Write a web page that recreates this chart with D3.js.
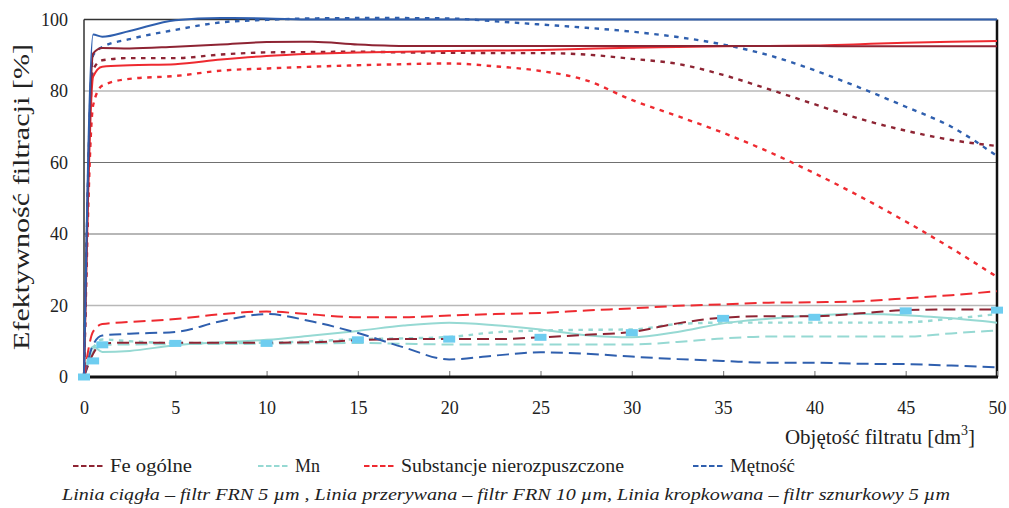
<!DOCTYPE html>
<html>
<head>
<meta charset="utf-8">
<script src="https://d3js.org/d3.v7.min.js"></script>
<style>
    body { margin: 0; background: #fff; }
    svg { display: block; }
    svg text { font-family: "Liberation Serif", "Times New Roman", serif; }
    .axis .domain { display: none; }
</style>
</head>
<body>
<script>
(function(){

//filtrate volume [dm3] - common sampling of all curves
var xVals = [0, 0.5, 1, 2.5, 5, 7.5, 10, 12.5, 15, 17.5, 20, 22.5, 25, 27.5, 30, 32.5, 35, 37.5, 40, 42.5, 45, 47.5, 50];

//Fe ogolne
var feSolid  = [0, 90.5, 92.0, 91.9, 92.4, 93.0, 93.7, 93.8, 93.0, 92.6, 92.6, 92.6, 92.6, 92.6, 92.6, 92.6, 92.6, 92.6, 92.6, 92.5, 92.5, 92.5, 92.5];
var feDashed = [0, 6.5, 9.4, 9.6, 9.6, 9.6, 9.6, 9.7, 10.3, 10.6, 10.6, 10.6, 11.1, 11.8, 12.6, 15.0, 16.6, 17.0, 17.0, 17.8, 18.7, 18.9, 18.9];
var feDotted = [0, 86.0, 88.6, 89.2, 89.2, 90.2, 90.8, 90.9, 91.0, 90.8, 90.7, 90.6, 90.6, 90.2, 89.0, 87.6, 84.5, 80.5, 76.3, 72.2, 68.9, 66.3, 64.6];

//Mn
var mnSolid  = [0, 8.5, 7.0, 7.3, 8.9, 9.7, 10.4, 11.6, 12.9, 14.4, 15.2, 14.5, 13.3, 11.7, 11.1, 12.6, 15.0, 16.3, 17.2, 17.6, 17.3, 16.4, 15.2];
var mnDashed = [0, 7.0, 9.0, 9.1, 9.2, 9.2, 9.3, 9.4, 9.5, 9.3, 9.1, 9.1, 9.1, 9.1, 9.1, 9.8, 10.8, 11.3, 11.3, 11.3, 11.3, 12.2, 13.0];
var mnDotted = [0, 8.0, 10.5, 10.0, 9.5, 9.5, 9.6, 10.0, 10.6, 10.8, 11.2, 12.5, 13.0, 13.2, 13.3, 14.8, 15.2, 15.2, 15.2, 15.2, 15.3, 16.3, 17.6];

//Substancje nierozpuszczone
var subSolid  = [0, 84.0, 86.8, 87.2, 87.5, 88.8, 89.8, 90.4, 90.8, 91.0, 91.2, 91.3, 91.5, 91.8, 92.1, 92.3, 92.5, 92.6, 92.7, 93.1, 93.5, 93.8, 94.0];
var subDashed = [0, 12.7, 14.8, 15.4, 16.2, 17.6, 18.3, 17.5, 16.7, 16.7, 17.2, 17.6, 17.9, 18.6, 19.2, 19.9, 20.3, 20.8, 20.9, 21.2, 22.0, 22.9, 24.0];
var subDotted = [0, 76.0, 81.5, 83.4, 84.2, 85.7, 86.3, 86.8, 87.2, 87.5, 87.7, 86.9, 85.6, 83.0, 77.5, 73.0, 68.3, 63.0, 57.0, 50.5, 43.5, 36.0, 28.0];

//Metnosc
var metSolid  = [0, 95.8, 95.2, 96.8, 99.8, 100.4, 100.3, 100, 100, 100, 100, 100, 100, 100, 100, 100, 100, 100, 100, 100, 100, 100, 100];
var metDashed = [0, 9.0, 11.6, 12.1, 12.6, 15.6, 17.6, 15.5, 12.3, 8.3, 4.9, 6.0, 6.9, 6.5, 5.7, 5.0, 4.5, 4.0, 4.0, 3.7, 3.6, 3.2, 2.7];
var metDotted = [0, 90.0, 92.3, 94.5, 97.1, 99.2, 99.9, 100.3, 100.4, 100.4, 100.3, 99.5, 98.6, 97.7, 96.6, 95.1, 93.0, 90.0, 85.8, 80.9, 75.6, 70.0, 61.8];

//light blue square markers
var markerX = [0, 0.5, 1, 5, 10, 15, 20, 25, 30, 35, 40, 45, 50];
var markerY = [0, 4.5, 9.0, 9.4, 9.4, 10.4, 10.6, 11.1, 12.4, 16.4, 16.7, 18.5, 18.7];

//ticks and labels
var xTicks = [0, 5, 10, 15, 20, 25, 30, 35, 40, 45, 50];
var yTicks = [0, 20, 40, 60, 80, 100];
var legendNames = ["Fe ogólne", "Mn", "Substancje nierozpuszczone", "Mętność"];
var captionText = "Linia ciągła – filtr FRN 5 µm , Linia przerywana – filtr FRN 10 µm, Linia kropkowana – filtr sznurkowy 5 µm";

var colors = ["#8e2433", "#96d9d3", "#ee2a30", "#2f5fae"];
var dashes = {solid: null, dashed: "12,6", dotted: "4.5,5.5"};

var width = 1009,
    height = 508,
    left = 84,
    right = 997,
    top = 19.5,
    bottom = 377;

var svg = d3.select("body")
    .append("svg")
    .attr("width", width)
    .attr("height", height);

var x = d3.scaleLinear().domain([0, 50]).range([left, right]);
var y = d3.scaleLinear().domain([0, 100]).range([bottom, top]);

//gridlines - alternate light/dark like the original scan
svg.selectAll(".grid")
    .data(yTicks.filter(function(d){ return d > 0 && d < 100; }))
    .enter()
    .append("line")
    .attr("x1", left)
    .attr("x2", right)
    .attr("y1", function(d){ return y(d); })
    .attr("y2", function(d){ return y(d); })
    .attr("stroke", function(d){ return (d == 20 || d == 80) ? "#b8b8b8" : "#707070"; })
    .attr("stroke-width", function(d){ return (d == 20 || d == 80) ? 1.6 : 1.1; });

//frame: top, right, left
svg.append("line").attr("x1", left).attr("x2", right).attr("y1", top).attr("y2", top)
    .attr("stroke", "#333").attr("stroke-width", 1.5);
svg.append("line").attr("x1", right).attr("x2", right).attr("y1", top).attr("y2", bottom)
    .attr("stroke", "#111").attr("stroke-width", 2.5);
svg.append("line").attr("x1", left).attr("x2", left).attr("y1", top).attr("y2", bottom)
    .attr("stroke", "#333").attr("stroke-width", 1.5);

//x axis
var xAxis = svg.append("g")
    .attr("class", "axis")
    .attr("transform", "translate(0," + bottom + ")")
    .call(d3.axisBottom(x).tickValues(xTicks).tickSizeInner(-6).tickSizeOuter(0).tickPadding(24));
xAxis.attr("font-family", null).attr("font-size", 18);
xAxis.selectAll("text").attr("fill", "#222");
xAxis.selectAll(".tick line").attr("stroke", "#888").attr("stroke-width", 1.2);
svg.append("line").attr("x1", left).attr("x2", right + 1).attr("y1", bottom).attr("y2", bottom)
    .attr("stroke", "#111").attr("stroke-width", 2.8);

//y axis
var yAxis = svg.append("g")
    .attr("class", "axis")
    .attr("transform", "translate(" + left + ",0)")
    .call(d3.axisLeft(y).tickValues(yTicks).tickSize(0).tickPadding(16));
yAxis.attr("font-family", null).attr("font-size", 18);
yAxis.selectAll("text").attr("fill", "#222");

//series lines
var line = d3.line()
    .x(function(d){ return x(d[0]); })
    .y(function(d){ return y(d[1]); })
    .curve(d3.curveMonotoneX);

var series = [
    {vals: mnDashed, c: 1, s: "dashed"},
    {vals: mnDotted, c: 1, s: "dotted"},
    {vals: mnSolid, c: 1, s: "solid"},
    {vals: feDashed, c: 0, s: "dashed"},
    {vals: metDashed, c: 3, s: "dashed"},
    {vals: subDashed, c: 2, s: "dashed"},
    {vals: subDotted, c: 2, s: "dotted"},
    {vals: feDotted, c: 0, s: "dotted"},
    {vals: metDotted, c: 3, s: "dotted"},
    {vals: subSolid, c: 2, s: "solid"},
    {vals: feSolid, c: 0, s: "solid"},
    {vals: metSolid, c: 3, s: "solid"}
];

series.forEach(function(sr){
    svg.append("path")
        .datum(xVals.map(function(v, i){ return [v, sr.vals[i]]; }))
        .attr("fill", "none")
        .attr("stroke", colors[sr.c])
        .attr("stroke-width", sr.s == "dotted" ? 2.4 : 2)
        .attr("stroke-dasharray", dashes[sr.s])
        .attr("d", line);
});

//markers
svg.selectAll(".marker")
    .data(markerX)
    .enter()
    .append("rect")
    .attr("class", "marker")
    .attr("x", function(d){ return x(d) - 6; })
    .attr("y", function(d, i){ return y(markerY[i]) - 3.5; })
    .attr("width", 12)
    .attr("height", 7)
    .attr("fill", "#6ecdf0");

//axis titles
svg.append("text")
    .attr("transform", "translate(29,197) rotate(-90)")
    .attr("text-anchor", "middle")
    .attr("textLength", 306)
    .attr("lengthAdjust", "spacingAndGlyphs")
    .style("font-size", "23px")
    .attr("fill", "#222")
    .text("Efektywność filtracji [%]");

var xTitle = svg.append("text")
    .attr("x", 975)
    .attr("y", 444)
    .attr("text-anchor", "end")
    .style("font-size", "21px")
    .attr("fill", "#222");
xTitle.append("tspan").text("Objętość filtratu [dm");
xTitle.append("tspan").attr("dy", -9).style("font-size", "14px").text("3");
xTitle.append("tspan").attr("dy", 9).text("]");

//legend
var legendX = [73, 258, 364, 693];
var legendW = [82, 25, 223, 65];
legendNames.forEach(function(name, i){
    svg.append("line")
        .attr("x1", legendX[i])
        .attr("x2", legendX[i] + 32)
        .attr("y1", 466)
        .attr("y2", 466)
        .attr("stroke", colors[i])
        .attr("stroke-width", 2)
        .attr("stroke-dasharray", "5.5,2.5");
    svg.append("text")
        .attr("x", legendX[i] + 37)
        .attr("y", 472)
        .attr("textLength", legendW[i])
        .attr("lengthAdjust", "spacingAndGlyphs")
        .style("font-size", "19px")
        .attr("fill", "#222")
        .text(name);
});

//caption
svg.append("text")
    .attr("x", 62)
    .attr("y", 500)
    .attr("textLength", 888)
    .attr("lengthAdjust", "spacingAndGlyphs")
    .style("font-style", "italic")
    .style("font-size", "17px")
    .attr("fill", "#222")
    .text(captionText);

})();
</script>
</body>
</html>
